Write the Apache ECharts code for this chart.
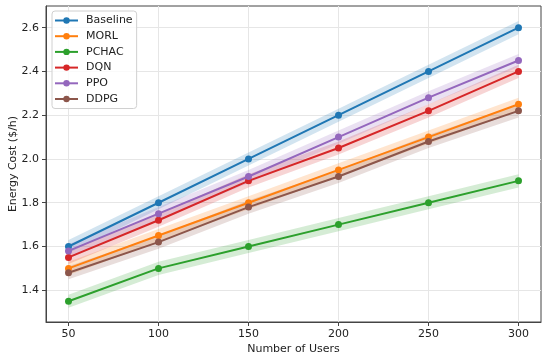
<!DOCTYPE html>
<html><head><meta charset="utf-8">
<script src="https://cdn.jsdelivr.net/npm/echarts@6/dist/echarts.min.js"></script>
<style>html,body{margin:0;padding:0;background:#fff}#c{width:550px;height:359px}</style>
</head><body><div id="c"></div>
<script>
const users = [50, 100, 150, 200, 250, 300];
const seriesNames = ['Baseline', 'MORL', 'PCHAC', 'DQN', 'PPO', 'DDPG'];
const baseline = [1.60, 1.80, 2.00, 2.20, 2.40, 2.60];
const morl     = [1.50, 1.65, 1.80, 1.95, 2.10, 2.25];
const pchac    = [1.35, 1.50, 1.60, 1.70, 1.80, 1.90];
const dqn      = [1.55, 1.72, 1.90, 2.05, 2.22, 2.40];
const ppo      = [1.58, 1.75, 1.92, 2.10, 2.28, 2.45];
const ddpg     = [1.48, 1.62, 1.78, 1.92, 2.08, 2.22];
const bandHalf = 0.03;
const xTicks = [50, 100, 150, 200, 250, 300];
const yTicks = [1.4, 1.6, 1.8, 2.0, 2.2, 2.4, 2.6];

const values = [baseline, morl, pchac, dqn, ppo, ddpg];
const colors = ['#1f77b4', '#ff7f0e', '#2ca02c', '#d62728', '#9467bd', '#8c564b'];
const FONT = 'DejaVu Sans';

function hexA(hex, a) {
  const n = parseInt(hex.slice(1), 16);
  return 'rgba(' + (n >> 16) + ',' + ((n >> 8) & 255) + ',' + (n & 255) + ',' + a + ')';
}

const series = [];
values.forEach((vals, k) => {
  series.push({
    type: 'custom',
    name: seriesNames[k] + '_band',
    silent: true,
    z: 1,
    data: [[users[0], vals[0]]],
    renderItem: function (params, api) {
      const upper = users.map((u, i) => api.coord([u, vals[i] + bandHalf]));
      const lower = users.map((u, i) => api.coord([u, vals[i] - bandHalf])).reverse();
      return {
        type: 'polygon',
        shape: { points: upper.concat(lower) },
        style: { fill: hexA(colors[k], 0.2), stroke: null }
      };
    }
  });
});
values.forEach((vals, k) => {
  series.push({
    type: 'line',
    name: seriesNames[k],
    z: 3 + k,
    data: users.map((u, i) => [u, vals[i]]),
    symbol: 'circle',
    symbolSize: 7,
    showSymbol: true,
    lineStyle: { width: 2, color: colors[k] },
    itemStyle: { color: colors[k] },
    emphasis: { disabled: true },
    animation: false
  });
});

const chart = echarts.init(document.getElementById('c'), null, { renderer: 'canvas' });
chart.setOption({
  animation: false,
  grid: { left: 46, right: 9, top: 6, bottom: 37, containLabel: false, outerBoundsMode: 'none',
    show: true, borderColor: '#444', borderWidth: 1, backgroundColor: 'transparent' },
  legend: {
    orient: 'vertical',
    left: 52, top: 11,
    data: seriesNames,
    itemWidth: 23, itemHeight: 8, itemGap: 2.7,
    padding: [3, 4, 3, 2],
    borderColor: '#d0d0d0', borderWidth: 1, borderRadius: 3,
    backgroundColor: 'rgba(255,255,255,0.8)',
    textStyle: { fontFamily: FONT, fontSize: 11, lineHeight: 13, color: '#222', padding: [0, 0, 0, 3] }
  },
  xAxis: {
    type: 'value', min: 37.5, max: 312.5,
    name: 'Number of Users', nameLocation: 'middle', nameGap: 22, nameMoveOverlap: false,
    nameTextStyle: { fontFamily: FONT, fontSize: 11, color: '#222' },
    axisLine: { show: true, lineStyle: { color: '#444' } },
    axisTick: { show: true, length: 4, lineStyle: { color: '#444' }, customValues: xTicks },
    axisLabel: { fontFamily: FONT, fontSize: 11, color: '#222', margin: 7, customValues: xTicks },
    splitLine: { show: true, lineStyle: { color: '#e6e6e6', width: 1 } }
  },
  yAxis: {
    type: 'value', min: 1.255, max: 2.699,
    name: 'Energy Cost ($/h)', nameLocation: 'middle', nameGap: 27, nameMoveOverlap: false,
    nameTextStyle: { fontFamily: FONT, fontSize: 11, color: '#222' },
    axisLine: { show: true, lineStyle: { color: '#444' } },
    axisTick: { show: true, length: 4, lineStyle: { color: '#444' }, customValues: yTicks },
    axisLabel: { fontFamily: FONT, fontSize: 11, color: '#222', margin: 7, customValues: yTicks,
      formatter: v => v.toFixed(1) },
    splitLine: { show: true, lineStyle: { color: '#e6e6e6', width: 1 } }
  },
  series: series
});
</script></body></html>
